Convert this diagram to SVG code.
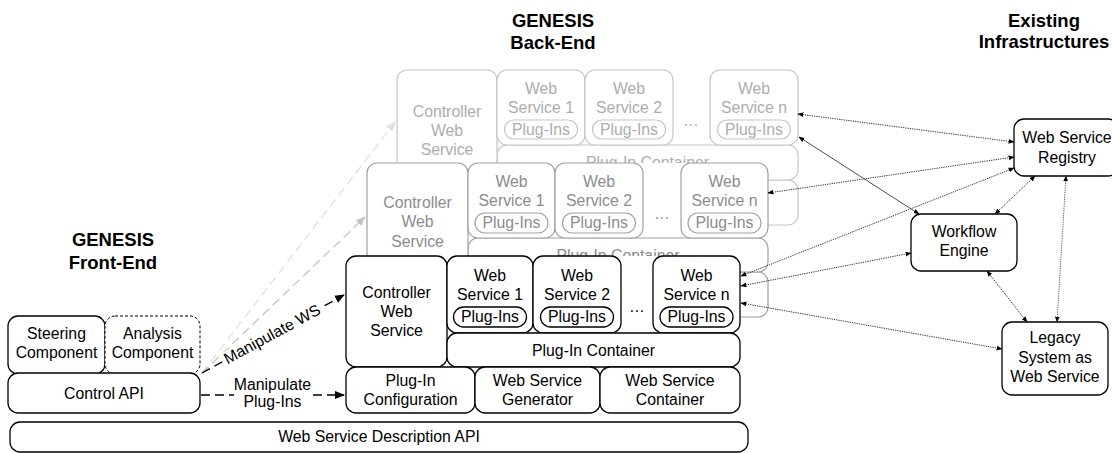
<svg xmlns="http://www.w3.org/2000/svg" width="1112" height="453" viewBox="0 0 1112 453">
<style>
text{font-family:"Liberation Sans",Arial,sans-serif;font-size:15.8px;text-anchor:middle;fill:#000}
.h{font-weight:bold;font-size:18.5px}
.f rect{fill:#fff;stroke:#000;stroke-width:1.3}
.m rect{fill:#fff;stroke:#a0a0a0;stroke-width:1.2}
.m text{fill:#8c8c8c}
.b rect{fill:#fff;stroke:#c6c6c6;stroke-width:1.2}
.b text{fill:#adadad}
rect.bg{stroke:none !important}
.n rect{fill:#fff;stroke:#000;stroke-width:1.3}
.dot{fill:none;stroke:#222;stroke-width:0.9;stroke-dasharray:1.3,1;marker-start:url(#sa);marker-end:url(#sa)}
.sol{fill:none;stroke:#222;stroke-width:0.8;marker-start:url(#sa);marker-end:url(#sa)}
</style>
<defs>
<marker id="sa" viewBox="0 0 10 10" refX="9" refY="5" markerWidth="6" markerHeight="6" markerUnits="userSpaceOnUse" orient="auto-start-reverse"><path d="M0,1 L10,5 L0,9 z" fill="#000"/></marker>
<marker id="ab" viewBox="0 0 10 10" refX="9" refY="5" markerWidth="10" markerHeight="10" markerUnits="userSpaceOnUse" orient="auto"><path d="M0,1 L10,5 L0,9 z" fill="#000"/></marker>
<marker id="am" viewBox="0 0 10 10" refX="9" refY="5" markerWidth="10" markerHeight="10" markerUnits="userSpaceOnUse" orient="auto"><path d="M0,1 L10,5 L0,9 z" fill="#c4c4c4"/></marker>
<marker id="al" viewBox="0 0 10 10" refX="9" refY="5" markerWidth="10" markerHeight="10" markerUnits="userSpaceOnUse" orient="auto"><path d="M0,1 L10,5 L0,9 z" fill="#e0e0e0"/></marker>
</defs>

<g id="headers">
<text class="h" x="553" y="27">GENESIS</text>
<text class="h" x="553" y="49">Back-End</text>
<text class="h" x="1044" y="27">Existing</text>
<text class="h" x="1044" y="48">Infrastructures</text>
<text class="h" x="113" y="246">GENESIS</text>
<text class="h" x="113" y="269">Front-End</text>
</g>

<g id="backend-layer-3" class="b">
<rect class="bg" x="397" y="70" width="401" height="155"/>
<rect x="497" y="180" width="130" height="45" rx="10"/>
<rect x="627" y="180" width="171" height="45" rx="10"/>
<rect x="497" y="145" width="301" height="35" rx="10"/>
<rect x="397" y="70" width="100" height="111" rx="10"/>
<rect x="497" y="70" width="88" height="75" rx="10"/>
<rect x="585" y="70" width="88" height="75" rx="10"/>
<rect x="710" y="70" width="88" height="75" rx="10"/>
<rect x="504.5" y="120" width="73" height="19" rx="9.5"/>
<rect x="592.5" y="120" width="73" height="19" rx="9.5"/>
<rect x="717.5" y="120" width="73" height="19" rx="9.5"/>
<text x="447" y="117">Controller</text><text x="447" y="136">Web</text><text x="447" y="155">Service</text>
<text x="541" y="94">Web</text><text x="541" y="113">Service 1</text><text x="541" y="135">Plug-Ins</text>
<text x="629" y="94">Web</text><text x="629" y="113">Service 2</text><text x="629" y="135">Plug-Ins</text>
<text x="691" y="126">…</text>
<text x="754" y="94">Web</text><text x="754" y="113">Service n</text><text x="754" y="135">Plug-Ins</text>
<text x="647.5" y="168">Plug-In Container</text>
</g>

<g id="backend-layer-2" class="m">
<rect class="bg" x="367" y="163" width="401" height="154"/>
<rect x="468" y="272" width="130" height="45" rx="10"/>
<rect x="598" y="272" width="170" height="45" rx="10"/>
<rect x="468" y="238" width="300" height="34" rx="10"/>
<rect x="367" y="163" width="101" height="111" rx="10"/>
<rect x="468" y="163" width="87" height="75" rx="10"/>
<rect x="555" y="163" width="88" height="75" rx="10"/>
<rect x="681" y="163" width="87" height="75" rx="10"/>
<rect x="475" y="213" width="73" height="20" rx="10"/>
<rect x="562.5" y="213" width="73" height="20" rx="10"/>
<rect x="688" y="213" width="73" height="20" rx="10"/>
<text x="417.5" y="208">Controller</text><text x="417.5" y="227">Web</text><text x="417.5" y="247">Service</text>
<text x="511.5" y="187">Web</text><text x="511.5" y="206">Service 1</text><text x="511.5" y="228">Plug-Ins</text>
<text x="599" y="187">Web</text><text x="599" y="206">Service 2</text><text x="599" y="228">Plug-Ins</text>
<text x="662" y="219">…</text>
<text x="724.5" y="187">Web</text><text x="724.5" y="206">Service n</text><text x="724.5" y="228">Plug-Ins</text>
<text x="618" y="261">Plug-In Container</text>
</g>

<g id="backend-front" class="f">
<rect class="bg" x="346" y="256" width="394" height="157"/>
<rect x="346" y="256" width="101" height="111" rx="10"/>
<rect x="447" y="256" width="86" height="77" rx="10"/>
<rect x="533" y="256" width="88" height="77" rx="10"/>
<rect x="653" y="256" width="87" height="77" rx="10"/>
<rect x="447" y="333" width="293" height="34" rx="10"/>
<rect x="346" y="367" width="129" height="46" rx="10"/>
<rect x="475" y="367" width="125" height="46" rx="10"/>
<rect x="600" y="367" width="140" height="46" rx="10"/>
<rect x="453.5" y="307" width="73" height="20" rx="10"/>
<rect x="540.5" y="307" width="73" height="20" rx="10"/>
<rect x="660" y="307" width="73" height="20" rx="10"/>
<text x="396.5" y="298">Controller</text><text x="396.5" y="317">Web</text><text x="396.5" y="336">Service</text>
<text x="490" y="281">Web</text><text x="490" y="300">Service 1</text><text x="490" y="322">Plug-Ins</text>
<text x="577" y="281">Web</text><text x="577" y="300">Service 2</text><text x="577" y="322">Plug-Ins</text>
<text x="637" y="312">…</text>
<text x="696.5" y="281">Web</text><text x="696.5" y="300">Service n</text><text x="696.5" y="322">Plug-Ins</text>
<text x="593.5" y="356">Plug-In Container</text>
<text x="410.5" y="386">Plug-In</text><text x="410.5" y="405">Configuration</text>
<text x="537.5" y="386">Web Service</text><text x="537.5" y="405">Generator</text>
<text x="670" y="386">Web Service</text><text x="670" y="405">Container</text>
</g>

<g id="frontend" class="n">
<rect x="8" y="316" width="97" height="58" rx="10"/>
<rect x="105" y="316" width="95" height="58" rx="10" style="stroke-dasharray:3,2;stroke-width:1"/>
<rect x="8" y="373" width="192" height="40" rx="10"/>
<text x="56.5" y="339">Steering</text><text x="56.5" y="358">Component</text>
<text x="152.5" y="339">Analysis</text><text x="152.5" y="358">Component</text>
<text x="104" y="399">Control API</text>
</g>

<g id="wsd-api" class="n">
<rect x="10" y="422" width="738" height="30" rx="10"/>
<text x="379" y="442">Web Service Description API</text>
</g>

<g id="registry" class="n">
<rect x="1014" y="119" width="104" height="57" rx="10"/>
<text x="1067" y="143">Web Service</text><text x="1067" y="163">Registry</text>
</g>
<g id="workflow" class="n">
<rect x="911" y="214" width="106" height="57" rx="10"/>
<text x="964" y="237">Workflow</text><text x="964" y="256">Engine</text>
</g>
<g id="legacy" class="n">
<rect x="1002" y="322" width="106" height="73" rx="10"/>
<text x="1055" y="343">Legacy</text><text x="1055" y="363">System as</text><text x="1055" y="382">Web Service</text>
</g>

<g id="connectors">
<line x1="202" y1="373" x2="395" y2="122" stroke="#e0e0e0" stroke-width="1.3" stroke-dasharray="9,5" marker-end="url(#al)"/>
<line x1="202" y1="373" x2="365" y2="217" stroke="#c4c4c4" stroke-width="1.3" stroke-dasharray="9,5" marker-end="url(#am)"/>
<line x1="202" y1="373" x2="344" y2="295" stroke="#000" stroke-width="1.4" stroke-dasharray="9,5" marker-end="url(#ab)"/>
<line x1="201" y1="395" x2="344" y2="395" stroke="#000" stroke-width="1.4" stroke-dasharray="9,5" marker-end="url(#ab)"/>
<g transform="translate(272,334) rotate(-28.5)">
<rect x="-55" y="-7" width="110" height="14" fill="#fff"/>
<text x="0" y="5.5">Manipulate WS</text>
</g>
<rect x="234" y="378" width="78" height="32" fill="#fff"/>
<text x="272.5" y="390">Manipulate</text>
<text x="272.5" y="407">Plug-Ins</text>
<path class="dot" d="M798,114 L1014,142"/>
<path class="sol" d="M799,137 L919,214"/>
<path class="dot" d="M768,193 L1014,157"/>
<path class="dot" d="M741,276 L1014,168"/>
<path class="dot" d="M741,286 L911,253"/>
<path class="dot" d="M741,303 L1002,349"/>
<path class="dot" d="M1035,176 L995,214"/>
<path class="dot" d="M1066,176 L1057,322" style="stroke:#555"/>
<path class="dot" d="M987,271 L1027,322"/>
</g>
</svg>
